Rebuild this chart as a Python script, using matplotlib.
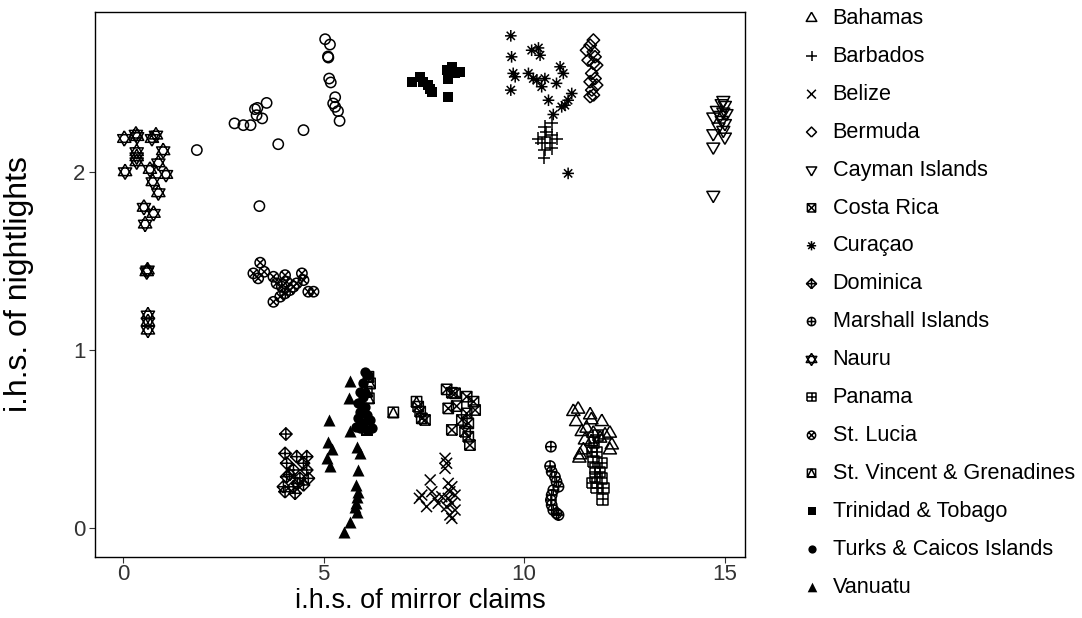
import numpy as np
import matplotlib
matplotlib.use("Agg")
import matplotlib.pyplot as plt
from matplotlib.path import Path

plt.rcParams['font.family'] = ['Liberation Sans', 'DejaVu Sans']

# ---- data ----
# open circles: series whose legend entry is not visible
unlabeled_x = [5.04, 5.16, 5.12, 5.11, 5.14, 5.18, 5.29, 5.24, 5.29, 5.36, 5.40,
               3.58, 3.29, 3.35, 3.33, 3.47, 2.78, 3.00, 3.18, 4.50, 3.87, 1.84, 3.40]
unlabeled_y = [2.747, 2.717, 2.644, 2.650, 2.526, 2.504, 2.421, 2.386, 2.367, 2.343, 2.288,
               2.389, 2.354, 2.361, 2.320, 2.302, 2.274, 2.264, 2.264, 2.236, 2.157, 2.124, 1.809]

bahamas_x = [11.23, 11.35, 11.30, 11.65, 11.68, 11.94, 11.44, 11.56, 11.73, 12.02, 12.14,
             11.52, 11.68, 11.90, 12.19, 12.14, 11.48, 11.40, 11.38]
bahamas_y = [0.654, 0.667, 0.597, 0.635, 0.607, 0.597, 0.541, 0.560, 0.532, 0.522, 0.532,
             0.494, 0.485, 0.504, 0.466, 0.438, 0.438, 0.410, 0.392]

barbados_x = [10.69, 10.52, 10.56, 10.36, 10.52, 10.69, 10.81, 10.44, 10.65, 10.52, 10.69, 10.50]
barbados_y = [2.274, 2.255, 2.226, 2.189, 2.198, 2.208, 2.189, 2.161, 2.161, 2.124, 2.133, 2.080]

belize_x = [8.03, 8.07, 8.03, 7.66, 7.45, 7.39, 7.70, 7.78, 7.57, 7.86, 7.95,
            8.11, 8.20, 8.15, 8.28, 8.11, 8.20, 8.07, 8.28, 8.15, 8.20]
belize_y = [0.392, 0.364, 0.335, 0.270, 0.185, 0.167, 0.204, 0.167, 0.120, 0.139, 0.176,
            0.251, 0.232, 0.204, 0.185, 0.167, 0.139, 0.120, 0.101, 0.073, 0.054]

bermuda_x = [11.73, 11.65, 11.56, 11.73, 11.77, 11.60, 11.73, 11.81, 11.69, 11.77,
             11.65, 11.81, 11.69, 11.73, 11.65]
bermuda_y = [2.742, 2.713, 2.685, 2.676, 2.648, 2.629, 2.611, 2.601, 2.555, 2.526,
             2.508, 2.489, 2.461, 2.433, 2.424]

cayman_x = [14.97, 14.93, 15.01, 14.81, 14.97, 14.89, 15.05, 14.72, 14.93, 15.01,
            14.85, 14.97, 14.72, 15.01, 14.72, 14.72]
cayman_y = [2.404, 2.386, 2.376, 2.348, 2.339, 2.320, 2.330, 2.311, 2.292, 2.274,
            2.255, 2.236, 2.217, 2.198, 2.142, 1.871]

costa_rica_x = [7.36, 7.41, 7.45, 7.53, 8.07, 8.20, 8.28, 8.11, 8.32, 8.20,
                8.57, 8.74, 8.78, 8.45, 8.57, 8.61, 8.53, 8.61, 8.65]
costa_rica_y = [0.682, 0.654, 0.616, 0.607, 0.779, 0.760, 0.757, 0.672, 0.685, 0.551,
                0.738, 0.710, 0.663, 0.607, 0.644, 0.588, 0.541, 0.513, 0.466]

curacao_x = [9.67, 9.69, 9.73, 9.78, 9.67, 10.19, 10.36, 10.40, 10.11, 10.23, 10.32,
             10.52, 10.44, 10.90, 10.98, 10.81, 10.61, 11.19, 11.10, 11.02, 10.94, 10.73, 11.10]
curacao_y = [2.766, 2.648, 2.555, 2.536, 2.461, 2.685, 2.698, 2.657, 2.555, 2.526, 2.517,
             2.526, 2.480, 2.592, 2.555, 2.499, 2.404, 2.442, 2.404, 2.376, 2.367, 2.324, 1.993]

dominica_x = [4.06, 4.04, 4.33, 4.58, 4.08, 4.50, 4.25, 4.58, 4.08, 4.41, 4.62,
              4.00, 4.25, 4.50, 4.04, 4.29, 4.15, 4.35]
dominica_y = [0.528, 0.419, 0.401, 0.401, 0.364, 0.364, 0.326, 0.326, 0.288, 0.279, 0.279,
              0.232, 0.232, 0.242, 0.204, 0.195, 0.300, 0.250]

marshall_x = [10.67, 10.65, 10.69, 10.77, 10.81, 10.86, 10.73, 10.69, 10.67, 10.69,
              10.73, 10.81, 10.86]
marshall_y = [0.457, 0.348, 0.316, 0.288, 0.260, 0.232, 0.213, 0.185, 0.157, 0.129,
              0.101, 0.083, 0.073]

nauru_x = [0.03, 0.32, 0.35, 0.72, 0.82, 1.00, 0.34, 0.34, 0.34, 0.05, 0.67, 0.88,
           1.07, 0.74, 0.88, 0.52, 0.76, 0.55, 0.59, 0.61, 0.62, 0.62, 0.62]
nauru_y = [2.189, 2.213, 2.200, 2.189, 2.208, 2.120, 2.115, 2.086, 2.058, 2.002, 2.015, 2.052,
           1.987, 1.946, 1.884, 1.802, 1.768, 1.708, 1.440, 1.450, 1.197, 1.159, 1.112]

panama_x = [11.69, 11.81, 11.73, 11.94, 11.77, 11.90, 11.77, 11.94, 11.69, 11.81, 11.98, 11.96,
            11.75, 11.85]
panama_y = [0.429, 0.429, 0.373, 0.364, 0.335, 0.316, 0.288, 0.279, 0.251, 0.223, 0.223, 0.161,
            0.480, 0.520]

st_lucia_x = [3.42, 3.25, 3.37, 3.52, 3.75, 3.83, 3.96, 4.04, 4.08, 4.16, 4.25, 4.33,
              4.46, 4.50, 3.92, 4.04, 3.75, 4.62, 4.75]
st_lucia_y = [1.491, 1.431, 1.403, 1.440, 1.412, 1.375, 1.356, 1.421, 1.384, 1.337, 1.356, 1.375,
              1.431, 1.393, 1.300, 1.319, 1.271, 1.328, 1.328]

st_vincent_x = [6.12, 6.16, 6.08, 6.13, 6.08, 6.74, 7.32]
st_vincent_y = [0.850, 0.813, 0.766, 0.729, 0.551, 0.650, 0.710]

trinidad_x = [7.20, 7.41, 7.49, 7.61, 7.70, 7.66, 8.07, 8.20, 8.28, 8.11, 8.40, 8.11]
trinidad_y = [2.508, 2.536, 2.508, 2.489, 2.451, 2.470, 2.573, 2.592, 2.555, 2.526, 2.564, 2.424]

turks_x = [6.03, 6.12, 5.99, 5.91, 5.99, 5.87, 6.03, 5.91, 6.08, 5.87, 6.16, 5.99,
           5.91, 6.20, 6.08, 5.81, 6.03]
turks_y = [0.878, 0.860, 0.813, 0.766, 0.738, 0.701, 0.682, 0.654, 0.635, 0.616, 0.607, 0.588,
           0.560, 0.560, 0.551, 0.569, 0.757]

vanuatu_x = [5.66, 5.64, 5.14, 5.66, 5.12, 5.20, 5.08, 5.16, 5.84, 5.91, 5.87,
             5.81, 5.87, 5.84, 5.81, 5.79, 5.83, 5.66, 5.51]
vanuatu_y = [0.828, 0.732, 0.607, 0.547, 0.485, 0.442, 0.392, 0.348, 0.453, 0.419, 0.326,
             0.242, 0.204, 0.176, 0.139, 0.120, 0.092, 0.035, -0.021]


# ---- R-style point shapes ----
def poly(pts):
    verts = list(pts) + [pts[0]]
    return Path(verts, [Path.MOVETO] + [Path.LINETO] * (len(verts) - 1))


def segs(*lines):
    verts, codes = [], []
    for a, b in lines:
        verts += [a, b]
        codes += [Path.MOVETO, Path.LINETO]
    return Path(verts, codes)


circle = Path.unit_circle()
square = poly([(-1, -1), (1, -1), (1, 1), (-1, 1)])
diamond = poly([(0, -1), (1, 0), (0, 1), (-1, 0)])
tri_up = poly([(0, 1), (0.866, -0.5), (-0.866, -0.5)])
tri_dn = poly([(0, -1), (0.866, 0.5), (-0.866, 0.5)])
plus_full = segs(((-1, 0), (1, 0)), ((0, -1), (0, 1)))
x_sq = segs(((-1, -1), (1, 1)), ((-1, 1), (1, -1)))
x_circ = segs(((-0.707, -0.707), (0.707, 0.707)), ((-0.707, 0.707), (0.707, -0.707)))
tri_in_sq = Path.make_compound_path(square, poly([(0, 1), (1, -1), (-1, -1)]))
asterisk = Path.make_compound_path(plus_full, x_circ)

series = [
    # label, x, y, marker, size, kind ('open' or 'solid')
    (None, unlabeled_x, unlabeled_y, 'o', 55, 'open'),
    ('Bahamas', bahamas_x, bahamas_y, tri_up, 120, 'open'),
    ('Barbados', barbados_x, barbados_y, plus_full, 85, 'open'),
    ('Belize', belize_x, belize_y, x_circ, 62, 'open'),
    ('Bermuda', bermuda_x, bermuda_y, diamond, 80, 'open'),
    ('Cayman Islands', cayman_x, cayman_y, tri_dn, 115, 'open'),
    ('Costa Rica', costa_rica_x, costa_rica_y, Path.make_compound_path(square, x_sq), 55, 'open'),
    ('Curaçao', curacao_x, curacao_y, asterisk, 70, 'open'),
    ('Dominica', dominica_x, dominica_y, Path.make_compound_path(diamond, plus_full), 80, 'open'),
    ('Marshall Islands', marshall_x, marshall_y, Path.make_compound_path(circle, plus_full), 55, 'open'),
    ('Nauru', nauru_x, nauru_y, Path.make_compound_path(tri_up, tri_dn), 120, 'open'),
    ('Panama', panama_x, panama_y, Path.make_compound_path(square, plus_full), 55, 'open'),
    ('St. Lucia', st_lucia_x, st_lucia_y, Path.make_compound_path(circle, x_circ), 55, 'open'),
    ('St. Vincent & Grenadines', st_vincent_x, st_vincent_y, tri_in_sq, 55, 'open'),
    ('Trinidad & Tobago', trinidad_x, trinidad_y, 's', 50, 'solid'),
    ('Turks & Caicos Islands', turks_x, turks_y, 'o', 55, 'solid'),
    ('Vanuatu', vanuatu_x, vanuatu_y, '^', 75, 'solid'),
]

fig = plt.figure(figsize=(10.82, 6.18), dpi=100)
ax = fig.add_axes([0.0878, 0.0987, 0.6007, 0.8819])

handles = []
for label, xs, ys, marker, size, kind in series:
    if kind == 'solid':
        h = ax.scatter(xs, ys, marker=marker, s=size, c='black', linewidths=0)
    else:
        h = ax.scatter(xs, ys, marker=marker, s=size, facecolors='none',
                       edgecolors='black', linewidths=1.1)
    if label is not None:
        h.set_label(label)
        handles.append(h)

ax.set_xlim(-0.70, 15.51)
ax.set_ylim(-0.163, 2.90)
ax.set_xticks([0, 5, 10, 15])
ax.set_yticks([0, 1, 2])
ax.tick_params(direction='out', length=4, width=0.8, labelsize=16,
               colors='#333333', labelcolor='#333333', pad=3)
ax.tick_params(axis='x', pad=1)
for sp in ax.spines.values():
    sp.set_linewidth(1.0)
    sp.set_color('black')

ax.set_xlabel('i.h.s. of mirror claims', fontsize=19.5)
ax.set_ylabel('i.h.s. of nightlights', fontsize=23)
ax.xaxis.set_label_coords(0.5, -0.057)
ax.yaxis.set_label_coords(-0.094, 0.5)

leg = fig.legend(handles=handles, loc='upper left', bbox_to_anchor=(0.740, 0.987),
                 frameon=False, fontsize=15.6, markerscale=0.8, handlelength=1.0,
                 handletextpad=0.47, labelspacing=0.78, borderpad=0,
                 borderaxespad=0, scatterpoints=1)

fig.savefig('out.png', dpi=100)
